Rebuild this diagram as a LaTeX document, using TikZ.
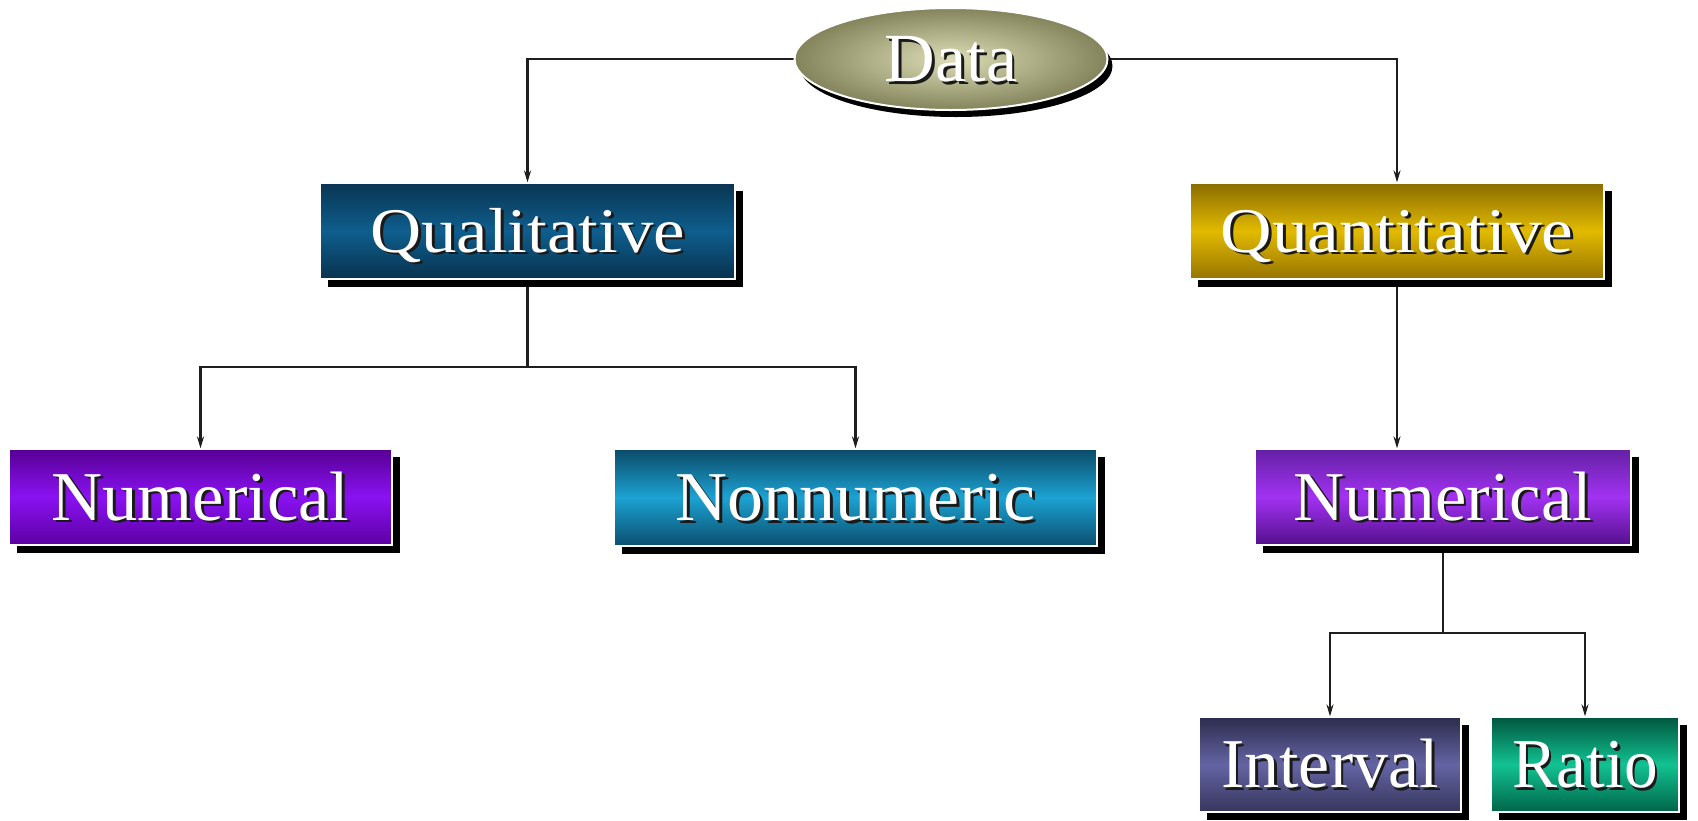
\documentclass[tikz,border=0pt]{standalone}
\usepackage{fontspec}
\usepackage{graphicx}
\setmainfont{Liberation Serif}
\usetikzlibrary{shapes.geometric,shadows,arrows.meta,backgrounds}
\definecolor{linecol}{HTML}{1E1E1E}
\definecolor{txtshadow}{HTML}{1A1A1A}
\definecolor{datain}{HTML}{DCDCB6}
\definecolor{dataout}{HTML}{84845C}
\definecolor{qualtop}{HTML}{0A3552}
\definecolor{qualmid}{HTML}{0E5E8E}
\definecolor{qualbot}{HTML}{09324E}
\definecolor{quanttop}{HTML}{8A6C00}
\definecolor{quantmid}{HTML}{E2BA00}
\definecolor{quantbot}{HTML}{967400}
\definecolor{numltop}{HTML}{560094}
\definecolor{numlmid}{HTML}{8A12F2}
\definecolor{numlbot}{HTML}{5C00A2}
\definecolor{nontop}{HTML}{0B4A68}
\definecolor{nonmid}{HTML}{1CA2D2}
\definecolor{nonbot}{HTML}{0B4E6E}
\definecolor{numrtop}{HTML}{6420A4}
\definecolor{numrmid}{HTML}{A232F2}
\definecolor{numrbot}{HTML}{54108C}
\definecolor{inttop}{HTML}{2C2C4E}
\definecolor{intmid}{HTML}{6464A4}
\definecolor{intbot}{HTML}{36365C}
\definecolor{ratiotop}{HTML}{00563E}
\definecolor{ratiomid}{HTML}{12C292}
\definecolor{ratiobot}{HTML}{006448}
\newcommand{\shtxt}[2]{\scalebox{#1}[1.06]{\rlap{\kern2.5pt\raisebox{-2.5pt}{\color{txtshadow}#2}}{\color{white}#2}}}
\tikzset{
  box/.style={rectangle, inner sep=0pt, draw=white, line width=1.2pt,
    drop shadow={shadow xshift=8pt, shadow yshift=-8pt, fill=black, opacity=1}},
  bigfont/.style={font=\fontsize{66}{70}\selectfont, text height=46pt, text depth=0pt},
  midfont/.style={font=\fontsize{60}{64}\selectfont, text height=42pt, text depth=0pt},
  conn/.style={draw=linecol, line width=2.2pt},
  arr/.style={conn, -{Stealth[length=12pt,width=7pt]}},
}
\begin{document}
\begin{tikzpicture}[x=1pt,y=-1pt]
\useasboundingbox (0,0) rectangle (1698,820);

\node[ellipse, minimum width=313pt, minimum height=102pt, inner sep=0pt,
  draw=white, line width=2pt, inner color=datain, outer color=dataout,
  drop shadow={shadow xshift=5pt, shadow yshift=-7pt, fill=black, opacity=1},
  font=\fontsize{65}{70}\selectfont, text height=45pt, text depth=0pt]
  (data) at (951,59) {\shtxt{1.08}{Data}};

\node[box, midfont, minimum width=415pt, minimum height=96pt,
  top color=qualtop, bottom color=qualbot, middle color=qualmid]
  (qual) at (527.5,231) {\shtxt{1.18}{Qualitative}};
\node[box, midfont, minimum width=414pt, minimum height=96pt,
  top color=quanttop, bottom color=quantbot, middle color=quantmid]
  (quant) at (1397,231) {\shtxt{1.19}{Quantitative}};

\node[box, bigfont, minimum width=383pt, minimum height=96pt,
  top color=numltop, bottom color=numlbot, middle color=numlmid]
  (numL) at (200.5,497) {\shtxt{1.07}{Numerical}};
\node[box, bigfont, minimum width=483pt, minimum height=97pt,
  top color=nontop, bottom color=nonbot, middle color=nonmid]
  (nonnum) at (855.5,497.5) {\shtxt{1.09}{Nonnumeric}};
\node[box, bigfont, minimum width=376pt, minimum height=96pt,
  top color=numrtop, bottom color=numrbot, middle color=numrmid]
  (numR) at (1443,497) {\shtxt{1.07}{Numerical}};

\node[box, bigfont, minimum width=262pt, minimum height=95pt,
  top color=inttop, bottom color=intbot, middle color=intmid]
  (interval) at (1330,764.5) {\shtxt{1.06}{Interval}};
\node[box, bigfont, minimum width=188pt, minimum height=95pt,
  top color=ratiotop, bottom color=ratiobot, middle color=ratiomid]
  (ratio) at (1585,764.5) {\shtxt{1.02}{Ratio}};

\coordinate (qsplit) at (527.5,367);
\coordinate (nsplit) at (1443,633);

\begin{scope}[on background layer]
\fill[white] (0,0) rectangle (1698,820);
\draw[arr] (data.west) -| (qual.north);
\draw[arr] (data.east) -| (quant.north);
\draw[conn] (qual.south) -- (qsplit);
\draw[arr] (qsplit) -| (numL.north);
\draw[arr] (qsplit) -| (nonnum.north);
\draw[arr] (quant.south) -- (quant.south |- numR.north);
\draw[conn] (numR.south) -- (nsplit);
\draw[arr] (nsplit) -| (interval.north);
\draw[arr] (nsplit) -| (ratio.north);
\end{scope}
\end{tikzpicture}
\end{document}
